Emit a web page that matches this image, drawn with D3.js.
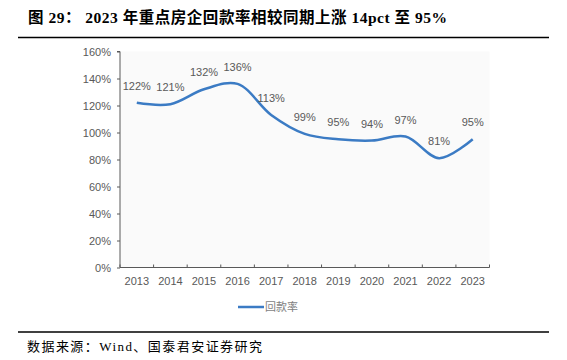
<!DOCTYPE html>
<html><head><meta charset="utf-8">
<script src="https://cdn.jsdelivr.net/npm/d3@7"></script>
<style>body{margin:0;background:#fff}svg{display:block}</style>
</head><body>
<script>
const years = ["2013","2014","2015","2016","2017","2018","2019","2020","2021","2022","2023"];
const rate = [1.22,1.21,1.32,1.36,1.13,0.99,0.95,0.94,0.97,0.81,0.95];
const yTicks = [0,0.2,0.4,0.6,0.8,1.0,1.2,1.4,1.6];
const seriesName = "回款率";
const titleText = "图 29： 2023 年重点房企回款率相较同期上涨 14pct 至 95%";
const sourceText = "数据来源：Wind、国泰君安证券研究";

const W=567,H=360;
const svg=d3.select("body").append("svg").attr("width",W).attr("height",H);
const pL=120,pR=489.5,pT=51.5,pB=267.5;
const x=d3.scaleBand().domain(years).range([pL,pR]);
const y=d3.scaleLinear().domain([0,1.6]).range([pB,pT]);

// title
svg.append("text").attr("x",28).attr("y",23).attr("font-family","'Liberation Serif','Noto Sans CJK SC'")
  .attr("font-weight","bold").attr("font-size",15.5).attr("fill","#000")
  .attr("textLength",419).attr("lengthAdjust","spacing").text(titleText);
svg.append("line").attr("x1",18).attr("x2",549).attr("y1",37.5).attr("y2",37.5).attr("stroke","#000").attr("stroke-width",1.3);

// plot bg
svg.append("rect").attr("x",pL).attr("y",pT).attr("width",pR-pL).attr("height",pB-pT).attr("fill","#fafafa");

const font="'Liberation Sans',Arial,sans-serif";
// y axis
const ya=svg.append("g").attr("transform",`translate(${pL},0)`)
  .call(d3.axisLeft(y).tickValues(yTicks).tickFormat(d3.format(".0%")).tickSize(3).tickPadding(6));
ya.select(".domain").attr("stroke","#595959").attr("d",`M-3,${pT}H0V${pB}`);
ya.selectAll(".tick line").attr("stroke","#595959");
ya.selectAll("text").attr("font-family",font).attr("font-size",11).attr("fill","#595959");

// x axis
const xa=svg.append("g");
xa.append("line").attr("x1",pL).attr("x2",pR).attr("y1",pB).attr("y2",pB).attr("stroke","#595959");
const bounds=years.map(d=>x(d)).concat([x.range()[1]]);
xa.selectAll(".xt").data(bounds).join("line").attr("x1",d=>d).attr("x2",d=>d).attr("y1",pB).attr("y2",pB-3).attr("stroke","#595959");
xa.selectAll(".xl").data(years).join("text").attr("x",d=>x(d)+x.bandwidth()/2).attr("y",pB+17)
  .attr("text-anchor","middle").attr("font-family",font).attr("font-size",11).attr("fill","#595959").text(d=>d);

// line
const pts=years.map((d,i)=>[x(d)+x.bandwidth()/2,y(rate[i])]);
svg.append("path").attr("d",d3.line().curve(d3.curveCatmullRom.alpha(0.5))(pts))
  .attr("fill","none").attr("stroke","#3b7bc4").attr("stroke-width",2.5);

// labels
svg.selectAll(".dl").data(years).join("text").attr("x",d=>x(d)+x.bandwidth()/2).attr("y",(d,i)=>y(rate[i])-13)
  .attr("text-anchor","middle").attr("font-family",font).attr("font-size",11).attr("fill","#595959")
  .text((d,i)=>d3.format(".0%")(rate[i]));

// legend
svg.append("line").attr("x1",238).attr("x2",264).attr("y1",307).attr("y2",307).attr("stroke","#3b7bc4").attr("stroke-width",2.5);
svg.append("text").attr("x",265).attr("y",311).attr("font-family","'Noto Sans CJK SC',sans-serif").attr("font-size",11).attr("fill","#7f7f7f").text(seriesName);

// footer
svg.append("line").attr("x1",18).attr("x2",549).attr("y1",332).attr("y2",332).attr("stroke","#000").attr("stroke-width",1.3);
svg.append("text").attr("x",27).attr("y",351).attr("font-family","'Liberation Serif','Noto Sans CJK SC'")
  .attr("font-size",13).attr("fill","#000")
  .attr("textLength",235).attr("lengthAdjust","spacing").text(sourceText);
</script>
</body></html>
